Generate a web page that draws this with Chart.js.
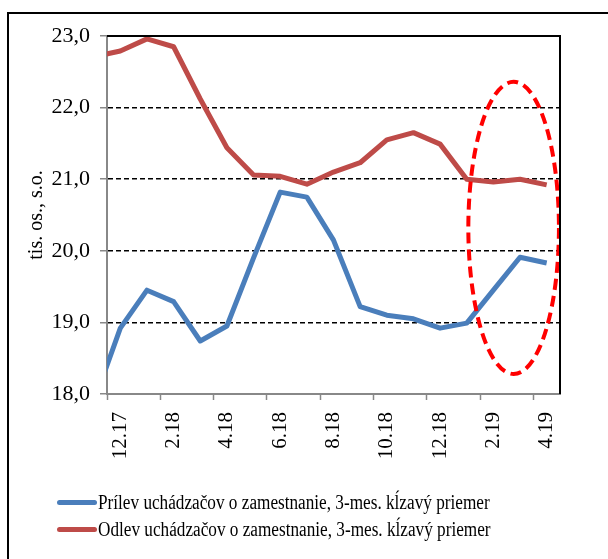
<!DOCTYPE html>
<html>
<head>
<meta charset="utf-8">
<script src="https://cdn.jsdelivr.net/npm/chart.js@4.4.1/dist/chart.umd.min.js"></script>
<style>
  html, body { margin: 0; padding: 0; background: #fff; }
  body { width: 608px; height: 559px; overflow: hidden; position: relative; font-family: "Liberation Serif", serif; }
  .frame { position: absolute; left: 7px; top: 12px; width: 700px; height: 700px; border: 2px solid #000; }
  #wrap { position: absolute; left: 0; top: 0; width: 608px; height: 559px; }
  .legend { position: absolute; left: 57px; top: 489px; }
  .legend-row { display: flex; align-items: center; height: 27px; color: #000; white-space: nowrap; }
  .legend-line { width: 40px; height: 5px; border-radius: 3px; margin-right: 1px; flex: none; }
  .legend-text { font-size: 20px; display: inline-block; transform: scaleX(0.86); transform-origin: left center; }
</style>
</head>
<body>
<div class="frame"></div>
<div id="wrap"><canvas id="chart" width="608" height="559"></canvas></div>
<div class="legend" id="legend"></div>
<script>
// mesiace (11.17 je mimo osi, vidno len kus ciary)
const months = ["11.17", "12.17", "1.18", "2.18", "3.18", "4.18", "5.18", "6.18", "7.18", "8.18",
  "9.18", "10.18", "11.18", "12.18", "1.19", "2.19", "3.19", "4.19"];
const inflow = [17.88, 18.92, 19.45, 19.29, 18.74, 18.95, 19.9, 20.82, 20.75, 20.15,
  19.22, 19.1, 19.05, 18.92, 18.99, 19.45, 19.91, 19.83];
const outflow = [22.71, 22.79, 22.96, 22.85, 22.12, 21.44, 21.06, 21.04, 20.93, 21.1,
  21.23, 21.55, 21.65, 21.49, 21.0, 20.96, 21.0, 20.92];
const yTickLabels = ["18,0", "19,0", "20,0", "21,0", "22,0", "23,0"];
const seriesNames = [
  "Prílev uchádzačov o zamestnanie, 3-mes. kĺzavý priemer",
  "Odlev uchádzačov o zamestnanie, 3-mes. kĺzavý priemer",
];
const colors = ["#4A7EBB", "#BE4B48"];

// cervena elipsa okolo poslednych mesiacov
const ellipseCenter = [15.76, 20.32];
const ellipseRadius = [1.70, 2.04];

const FONT = "Liberation Serif";

const ellipsePlugin = {
  id: "ellipse",
  afterDatasetsDraw(chart) {
    const { ctx, scales: { x, y } } = chart;
    const cx = x.getPixelForValue(ellipseCenter[0]);
    const cy = y.getPixelForValue(ellipseCenter[1]);
    const rx = x.getPixelForValue(ellipseCenter[0] + ellipseRadius[0]) - cx;
    const ry = cy - y.getPixelForValue(ellipseCenter[1] + ellipseRadius[1]);
    ctx.save();
    ctx.strokeStyle = "#FF0000";
    ctx.lineWidth = 4;
    ctx.setLineDash([11, 6]);
    ctx.beginPath();
    ctx.ellipse(cx, cy, rx, ry, 0, 0, Math.PI * 2);
    ctx.stroke();
    ctx.restore();
  },
};

// horny a pravy okraj grafu
const borderPlugin = {
  id: "plotBorder",
  afterDraw(chart) {
    const { ctx, chartArea: a } = chart;
    ctx.save();
    ctx.strokeStyle = "#000";
    ctx.lineWidth = 2;
    ctx.beginPath();
    ctx.moveTo(a.left, a.top);
    ctx.lineTo(a.right, a.top);
    ctx.lineTo(a.right, a.bottom);
    ctx.stroke();
    ctx.restore();
  },
};

const chart = new Chart(document.getElementById("chart"), {
  type: "line",
  data: {
    labels: months,
    datasets: [
      { label: seriesNames[0], data: inflow, borderColor: colors[0], backgroundColor: colors[0] },
      { label: seriesNames[1], data: outflow, borderColor: colors[1], backgroundColor: colors[1] },
    ].map((d) => ({
      ...d,
      borderWidth: 5,
      pointRadius: 0,
      tension: 0,
      borderJoinStyle: "round",
      clip: { left: 0, top: 3, right: 3, bottom: 3 },
    })),
  },
  options: {
    responsive: false,
    animation: false,
    layout: { padding: { top: 36, right: 48, left: 0, bottom: 0 } },
    plugins: { legend: { display: false }, tooltip: { enabled: false } },
    scales: {
      x: {
        type: "category",
        min: "12.17",
        offset: true,
        afterFit: (s) => { s.height = 165; },
        border: { color: "#888", width: 2 },
        grid: {
          offset: true,
          drawOnChartArea: false,
          tickLength: 6,
          tickWidth: 1.5,
          tickColor: (c) => (c.tick && (c.tick.value - 1) % 2 === 0 ? "#888" : "transparent"),
        },
        ticks: {
          autoSkip: false,
          minRotation: 90,
          maxRotation: 90,
          padding: 12,
          color: "#000",
          font: { family: FONT, size: 21 },
          callback: (v) => ((v - 1) % 2 === 0 ? months[v] : ""),
        },
      },
      y: {
        min: 18,
        max: 23,
        afterFit: (s) => { s.width = 107; },
        border: { color: "#888", width: 2, dash: [5, 3] },
        grid: {
          color: (c) => (c.tick.value > 18 && c.tick.value < 23 ? "#000" : "transparent"),
          lineWidth: 1.5,
          tickLength: 7,
          tickColor: "#888",
          tickBorderDash: [],
        },
        ticks: {
          stepSize: 1,
          padding: 10,
          color: "#000",
          font: { family: FONT, size: 22 },
          callback: (v, i) => yTickLabels[i],
        },
        title: {
          display: true,
          text: "tis. os., s.o.",
          color: "#000",
          font: { family: FONT, size: 20 },
          padding: { top: 25, bottom: 0 },
        },
      },
    },
  },
  plugins: [ellipsePlugin, borderPlugin],
});

// legenda pod grafom
const legend = document.getElementById("legend");
chart.data.datasets.forEach((ds) => {
  const row = document.createElement("div");
  row.className = "legend-row";
  const line = document.createElement("span");
  line.className = "legend-line";
  line.style.background = ds.borderColor;
  const text = document.createElement("span");
  text.className = "legend-text";
  text.textContent = ds.label;
  row.appendChild(line);
  row.appendChild(text);
  legend.appendChild(row);
});
</script>
</body>
</html>
